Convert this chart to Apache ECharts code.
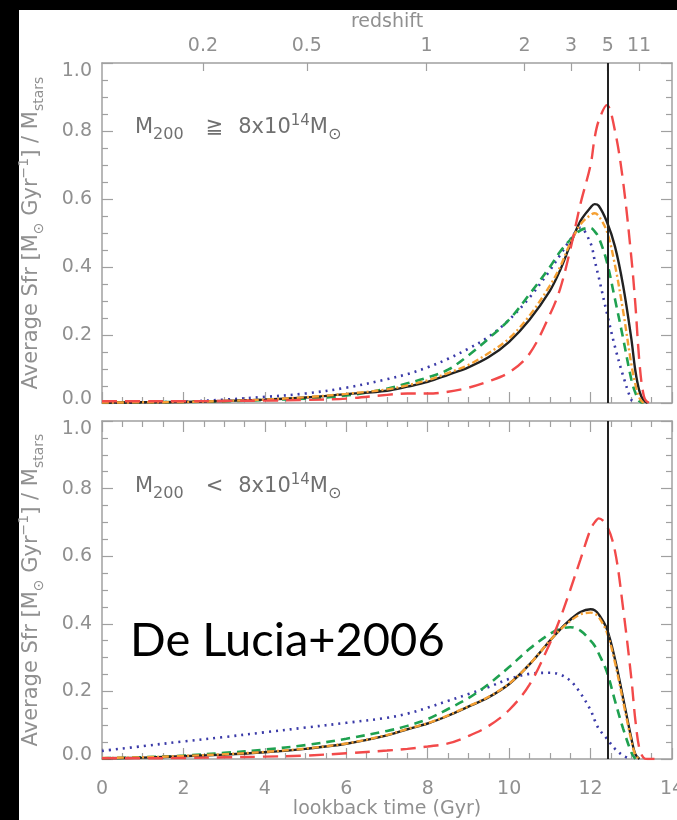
<!DOCTYPE html>
<html><head><meta charset="utf-8">
<script src="https://cdn.jsdelivr.net/npm/echarts@6/dist/echarts.min.js"></script>
<style>html,body{margin:0;padding:0;background:#fff}#c{width:677px;height:820px}</style>
</head><body><div id="c"></div>
<script>
// lookback time sample points (Gyr)
const T = [0,1,2,3,4,5,6,7,7.5,8,8.5,9,9.5,10,10.5,11,11.25,11.5,11.75,12,12.1,12.2,12.4,12.6,12.8,13,13.1,13.2,13.3,13.4,13.6];

// top panel: M200 >= 8e14
const topBlack  = [0.001,0.002,0.003,0.006,0.01,0.016,0.026,0.036,0.048,0.062,0.083,0.105,0.135,0.18,0.245,0.33,0.39,0.465,0.535,0.575,0.585,0.58,0.533,0.46,0.345,0.19,0.095,0.035,0.008,0,null];
const topOrange = [0.001,0.002,0.003,0.006,0.01,0.017,0.027,0.04,0.052,0.067,0.088,0.112,0.147,0.19,0.257,0.345,0.40,0.47,0.525,0.553,0.558,0.55,0.505,0.405,0.27,0.115,0.055,0.015,0,null,null];
const topGreen  = [0.001,0.002,0.003,0.005,0.009,0.013,0.022,0.042,0.058,0.075,0.098,0.14,0.19,0.245,0.32,0.40,0.445,0.48,0.508,0.515,0.505,0.487,0.415,0.305,0.19,0.07,0.03,0.005,0,null,null];
const topBlue   = [0.001,0.002,0.004,0.01,0.018,0.028,0.045,0.07,0.085,0.105,0.13,0.16,0.195,0.245,0.31,0.39,0.435,0.48,0.515,0.47,0.42,0.37,0.265,0.165,0.08,0.01,0,null,null,null,null];
const topRed    = [0.005,0.005,0.005,0.006,0.007,0.009,0.013,0.024,0.028,0.028,0.033,0.045,0.064,0.09,0.145,0.26,0.335,0.45,0.585,0.70,0.78,0.83,0.876,0.80,0.65,0.43,0.29,0.12,0.025,0.003,0];

// bottom panel: M200 < 8e14
const botBlack  = [0.002,0.004,0.008,0.013,0.02,0.03,0.045,0.07,0.088,0.105,0.128,0.155,0.183,0.222,0.28,0.35,0.383,0.412,0.435,0.443,0.44,0.428,0.385,0.295,0.18,0.062,0.014,0,null,null,null];
const botOrange = [0.003,0.005,0.009,0.014,0.021,0.031,0.046,0.071,0.089,0.106,0.129,0.156,0.184,0.223,0.28,0.35,0.382,0.408,0.428,0.433,0.43,0.42,0.375,0.285,0.17,0.055,0.012,0,null,null,null];
const botGreen  = [0.002,0.005,0.01,0.018,0.028,0.041,0.06,0.083,0.098,0.118,0.148,0.18,0.222,0.272,0.326,0.37,0.385,0.39,0.38,0.35,0.335,0.312,0.258,0.172,0.09,0.02,0,null,null,null,null];
const botBlue   = [0.024,0.038,0.052,0.065,0.079,0.093,0.107,0.122,0.134,0.152,0.172,0.192,0.213,0.237,0.252,0.255,0.25,0.232,0.195,0.145,0.115,0.09,0.06,0.03,0.01,0,null,null,null,null,null];
const botRed    = [0.002,0.002,0.003,0.005,0.007,0.01,0.017,0.025,0.03,0.037,0.046,0.068,0.098,0.145,0.22,0.342,0.415,0.5,0.59,0.68,0.70,0.712,0.69,0.615,0.445,0.24,0.115,0.03,0.004,0,0];

// redshift axis (top): lookback times of the ticks and their labels
const zTickTimes = [2.48, 5.03, 7.97, 10.38, 11.52, 12.42, 13.19];
const zTickLabels = ['0.2', '0.5', '1', '2', '3', '5', '11'];
const zLineTime = 12.42; // z = 5

const axisColor = '#a0a0a0';
const labelColor = '#909090';
const FONT = "'DejaVu Sans'";
const FS = 19;

const line = {show:true, onZero:false, lineStyle:{color:axisColor, width:1.5}};
const majorTick = {show:true, inside:true, length:11, lineStyle:{color:axisColor, width:1.2}};
const minorTick = {show:true, splitNumber:4, length:6, lineStyle:{color:axisColor, width:1.2}};
const lblStyle = {color:labelColor, fontFamily:FONT, fontSize:FS};

function xA(grid, pos, extra) {
  return Object.assign({gridIndex:grid, type:'value', position:pos, min:0, max:14, interval:2,
    axisLine:line, axisTick:majorTick, minorTick:minorTick, axisLabel:{show:false},
    splitLine:{show:false}, minorSplitLine:{show:false}}, extra || {});
}
const yRich = {
  a:{fontSize:21, color:labelColor, fontFamily:FONT, lineHeight:29},
  s:{fontSize:14, color:labelColor, fontFamily:FONT, lineHeight:14, verticalAlign:'bottom'},
  p:{fontSize:14, color:labelColor, fontFamily:FONT, lineHeight:14, verticalAlign:'top'}
};
const yName = '{a|Average Sfr [M}{s|⊙}{a| Gyr}{p|−1}{a|] / M}{s|stars}';
function yFmt(v) {
  if (Math.abs(v - 1) < 1e-9) return '{hi|1.0}';
  if (Math.abs(v) < 1e-9) return '{lo|0.0}';
  return v.toFixed(1);
}
const yLblRich = {
  hi:{color:labelColor, fontFamily:FONT, fontSize:FS, padding:[16,0,0,0]},
  lo:{color:labelColor, fontFamily:FONT, fontSize:FS, padding:[0,0,8,0]}
};
function yA(grid, pos, labels) {
  const o = {gridIndex:grid, type:'value', position:pos, min:0, max:1, interval:0.2,
    axisLine:line, axisTick:majorTick, minorTick:minorTick,
    splitLine:{show:false}, minorSplitLine:{show:false},
    axisLabel: labels ? Object.assign({margin:10, formatter:yFmt, rich:yLblRich}, lblStyle) : {show:false}};
  if (labels) {
    o.name = yName; o.nameLocation = 'middle'; o.nameRotate = 90; o.nameGap = 56;
    o.nameTextStyle = {rich:yRich, color:labelColor, fontFamily:FONT, fontSize:21};
  }
  return o;
}

function pairs(vals) { return T.map((t, i) => [t, vals[i]]); }
const styles = {
  black:{color:'#222222', width:2.4, type:'solid'},
  orange:{color:'#f5a033', width:2.4, type:[7,3,2,3]},
  green:{color:'#1fa150', width:2.6, type:[9,6]},
  blue:{color:'#3a3aa8', width:2.6, type:[2,5]},
  red:{color:'#f24a4a', width:2.4, type:[15,8]}
};
function ser(name, vals, st, xi, yi, withLine) {
  const s = {name, type:'line', xAxisIndex:xi, yAxisIndex:yi, data:pairs(vals), showSymbol:false,
    smooth:0.35, lineStyle:styles[st], itemStyle:{color:styles[st].color}, animation:false, silent:true};
  if (withLine) {
    s.markLine = {silent:true, symbol:['none','none'], label:{show:false}, animation:false,
      lineStyle:{color:'#222', width:2, type:'solid'}, data:[{xAxis:zLineTime}]};
  }
  return s;
}

const PC = '#707070';
const panelRich = {
  m:{fontSize:21, fill:PC, fontFamily:FONT, lineHeight:29},
  s:{fontSize:16, fill:PC, fontFamily:FONT, lineHeight:16, verticalAlign:'bottom'},
  p:{fontSize:15, fill:PC, fontFamily:FONT, lineHeight:15, verticalAlign:'top'},
  o:{fontSize:21, fill:PC, fontFamily:FONT, lineHeight:29, padding:[0,15,0,22]}
};

const option = {
  backgroundColor:'#ffffff',
  animation:false,
  grid:[
    {left:102, top:63, width:570, height:340, outerBoundsMode:'none', containLabel:false},
    {left:102, top:421, width:570, height:338, outerBoundsMode:'none', containLabel:false}
  ],
  xAxis:[
    xA(0, 'bottom'),
    xA(0, 'top', {interval:null, minorTick:{show:false},
      axisTick:Object.assign({}, majorTick, {length:8, customValues:zTickTimes}),
      axisLabel:Object.assign({show:true, margin:7, customValues:zTickTimes,
        formatter:(v) => { const i = zTickTimes.findIndex(t => Math.abs(t - v) < 1e-6); return i >= 0 ? zTickLabels[i] : ''; }}, lblStyle),
      name:'redshift', nameLocation:'middle', nameGap:31, nameTextStyle:lblStyle}),
    xA(1, 'bottom', {axisLabel:Object.assign({show:true, margin:21}, lblStyle),
      name:'lookback time (Gyr)', nameLocation:'middle', nameGap:41, nameTextStyle:lblStyle}),
    xA(1, 'top')
  ],
  yAxis:[
    yA(0, 'left', true), yA(0, 'right', false),
    yA(1, 'left', true), yA(1, 'right', false)
  ],
  series:[
    ser('blue', topBlue, 'blue', 0, 0),
    ser('green', topGreen, 'green', 0, 0),
    ser('black', topBlack, 'black', 0, 0, true),
    ser('orange', topOrange, 'orange', 0, 0),
    ser('red', topRed, 'red', 0, 0),
    ser('blue', botBlue, 'blue', 2, 2),
    ser('green', botGreen, 'green', 2, 2),
    ser('black', botBlack, 'black', 2, 2, true),
    ser('orange', botOrange, 'orange', 2, 2),
    ser('red', botRed, 'red', 2, 2)
  ],
  graphic:[
    {type:'rect', shape:{x:0, y:0, width:677, height:10}, style:{fill:'#000'}},
    {type:'rect', shape:{x:0, y:0, width:19, height:820}, style:{fill:'#000'}},
    {type:'text', x:135, y:128, style:{text:'{m|M}{s|200}{o|≧}{m|8x10}{p|14}{m|M}{s|⊙}', rich:panelRich, verticalAlign:'middle', align:'left'}},
    {type:'text', x:135, y:487, style:{text:'{m|M}{s|200}{o|<}{m|8x10}{p|14}{m|M}{s|⊙}', rich:panelRich, verticalAlign:'middle', align:'left'}},
    {type:'text', x:130, y:641, style:{text:'De Lucia+2006', fontSize:47, fontFamily:'Lato', fill:'#000', verticalAlign:'middle', align:'left'}}
  ]
};
const chart = echarts.init(document.getElementById('c'), null, {renderer:'canvas'});
chart.setOption(option);
</script>
</body></html>
